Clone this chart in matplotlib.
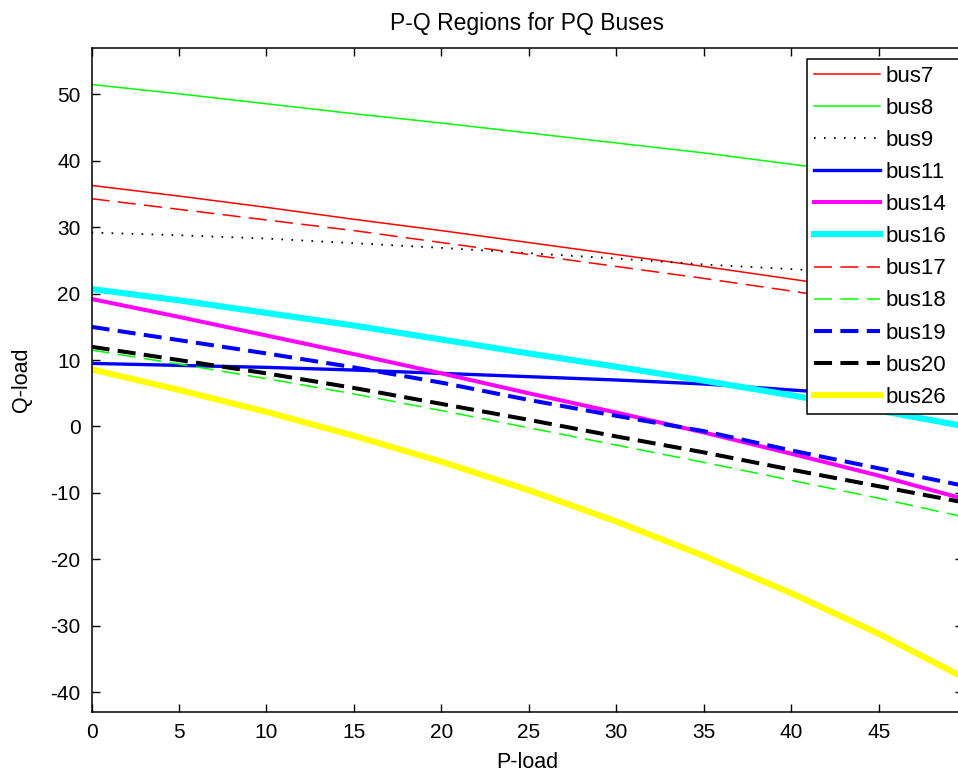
import matplotlib
matplotlib.use("Agg")
import matplotlib.pyplot as plt
from matplotlib.patches import Rectangle
from matplotlib.lines import Line2D

# P-load sample points
p_load = [0, 5, 10, 15, 20, 25, 30, 35, 40, 45, 50]

# Q-load limits per bus
bus7 = [36.3, 34.7, 33.0, 31.2, 29.5, 27.7, 25.9, 24.1, 22.2, 20.3, 18.3]
bus8 = [51.5, 50.1, 48.6, 47.1, 45.7, 44.2, 42.7, 41.2, 39.5, 37.8, 36.0]
bus9 = [29.2, 28.8, 28.3, 27.6, 26.9, 26.1, 25.3, 24.4, 23.7, 22.9, 22.1]
bus11 = [9.5, 9.2, 8.9, 8.5, 8.0, 7.5, 7.0, 6.4, 5.5, 4.6, 3.7]
bus14 = [19.2, 16.5, 13.7, 10.9, 8.0, 5.0, 2.1, -0.9, -4.1, -7.4, -11.0]
bus16 = [20.7, 19.0, 17.1, 15.2, 13.1, 11.0, 9.0, 6.9, 4.7, 2.4, 0.0]
bus17 = [34.3, 32.7, 31.1, 29.5, 27.7, 25.9, 24.1, 22.3, 20.4, 18.4, 16.3]
bus18 = [11.5, 9.4, 7.2, 4.9, 2.4, -0.2, -2.8, -5.4, -8.1, -10.8, -13.7]
bus19 = [15.0, 13.0, 11.0, 8.9, 6.6, 4.0, 1.6, -0.7, -3.6, -6.3, -9.0]
bus20 = [12.0, 10.0, 8.0, 5.8, 3.4, 1.0, -1.5, -3.9, -6.5, -9.0, -11.5]
bus26 = [8.6, 5.5, 2.2, -1.4, -5.3, -9.6, -14.3, -19.5, -25.1, -31.2, -38.0]

plt.rcParams['font.family'] = ['Liberation Sans', 'DejaVu Sans']
plt.rcParams['lines.scale_dashes'] = False
plt.rcParams['axes.unicode_minus'] = False

fig = plt.figure(figsize=(9.58, 7.74), dpi=100)
ax = fig.add_axes([0.0956, 0.0801, 0.9092, 0.8579])

dash = (0, (13, 6))
dot = (0, (1.2, 6))
ax.plot(p_load, bus7, color='#ff0000', lw=1.1, label='bus7')
ax.plot(p_load, bus8, color='#00ff00', lw=1.1, label='bus8')
ax.plot(p_load, bus9, color='black', lw=1.3, ls=dot, label='bus9')
ax.plot(p_load, bus11, color='#0000ff', lw=2.4, label='bus11')
ax.plot(p_load, bus14, color='#ff00ff', lw=2.9, label='bus14')
ax.plot(p_load, bus16, color='#00ffff', lw=4.4, label='bus16')
ax.plot(p_load, bus17, color='#ff0000', lw=1.1, ls=dash, label='bus17')
ax.plot(p_load, bus18, color='#00ff00', lw=1.1, ls=dash, label='bus18')
ax.plot(p_load, bus19, color='#0000ff', lw=2.9, ls=dash, label='bus19')
ax.plot(p_load, bus20, color='black', lw=2.9, ls=dash, label='bus20')
ax.plot(p_load, bus26, color='#ffff00', lw=4.4, label='bus26')

ax.set_xlim(0, 49.8)
ax.set_ylim(-43, 57)
ax.set_xticks(range(0, 50, 5))
ax.set_yticks(range(-40, 51, 10))
ax.tick_params(direction='in', length=6, width=1, top=True, right=True,
               labelsize=15, pad=8)
for s in ax.spines.values():
    s.set_linewidth(1.1)

ax.set_title('P-Q Regions for PQ Buses', fontsize=16.5, pad=13)
ax.set_xlabel('P-load', fontsize=15.5, labelpad=7)
ax.set_ylabel('Q-load', fontsize=15.5, labelpad=13)

leg = ax.legend(loc='upper left', bbox_to_anchor=(807 / 958, 1 - 59 / 774),
                bbox_transform=fig.transFigure, fontsize=16, frameon=False,
                borderaxespad=0, handlelength=3.0, handletextpad=0.25,
                labelspacing=0.5, borderpad=0.3)
leg.set_zorder(7)

# legend box open on the right, running up to the figure edge
fig.canvas.draw()
bb = leg.get_window_extent().transformed(fig.transFigure.inverted())
x1 = 1.0
ax.add_patch(Rectangle((bb.x0, bb.y0), x1 - bb.x0, bb.height,
                       transform=fig.transFigure, facecolor='white',
                       edgecolor='none', zorder=5, clip_on=False))
ax.add_line(Line2D([x1, bb.x0, bb.x0, x1], [bb.y1, bb.y1, bb.y0, bb.y0],
                   transform=fig.transFigure, color='black', lw=1.1,
                   zorder=6, clip_on=False))

fig.savefig('out.png', dpi=100)
